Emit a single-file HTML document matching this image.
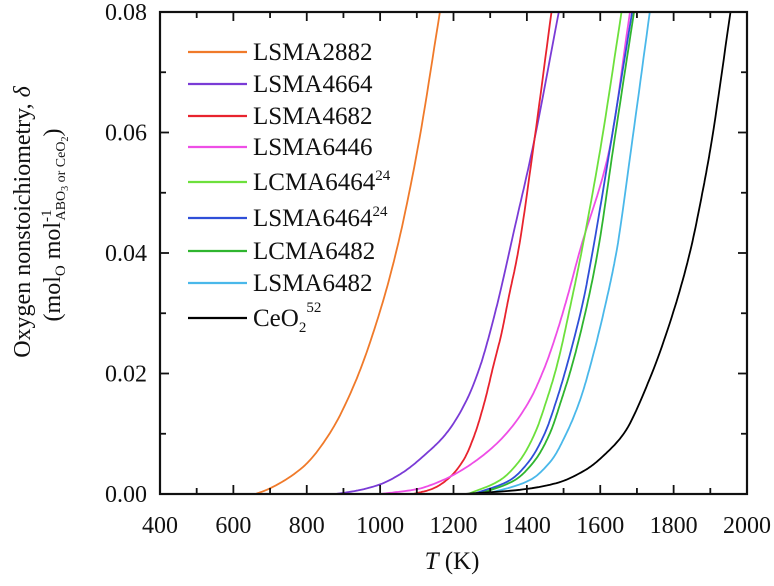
<!DOCTYPE html>
<html><head><meta charset="utf-8"><style>
body{margin:0;background:#fff}
svg text{font-family:"Liberation Serif",serif;fill:#111}
</style></head><body>
<svg id="chart" width="774" height="581" viewBox="0 0 774 581" xmlns="http://www.w3.org/2000/svg">
<g id="marks"></g>
<g id="axes"></g>
<g id="legend"></g>
<text x="452" y="569" text-anchor="middle" font-size="25"><tspan font-style="italic">T</tspan> (K)</text>
<text transform="translate(30,222) rotate(-90)" text-anchor="middle" font-size="24">Oxygen nonstoichiometry, <tspan font-style="italic">δ</tspan></text>
<text transform="translate(60,225) rotate(-90)" text-anchor="middle" font-size="24">(mol<tspan font-size="15" dy="5">O</tspan><tspan dy="-5"> mol</tspan><tspan font-size="15" dy="-9">-1</tspan><tspan font-size="14" dx="-11" dy="14">ABO</tspan><tspan font-size="10" dy="3">3</tspan><tspan font-size="14" dy="-3"> or CeO</tspan><tspan font-size="10" dy="3">2</tspan><tspan dy="-8">)</tspan></text>
</svg>
<script>
const xTicks=[400,600,800,1000,1200,1400,1600,1800,2000];
const yTicks=[0,0.02,0.04,0.06,0.08];
const seriesNames=["LSMA2882","LSMA4664","LSMA4682","LSMA6446","LCMA6464","LSMA6464","LCMA6482","LSMA6482","CeO2"];
const seriesColors=["#f07a2a","#7a3bd6","#e8232e","#ee4ee6","#6de03c","#2f4fd8","#2fb52f","#4ab8ea","#000000"];
const T_LSMA2882=[660,691,790,863,931,995,1045,1102,1163];
const D_LSMA2882=[0,0.0007,0.0045,0.0101,0.0184,0.0294,0.0405,0.0572,0.08];
const T_LSMA4664=[880,940,1000,1060,1120,1181,1236,1272,1299,1322,1368,1415,1487];
const D_LSMA4664=[0,0.0006,0.0016,0.0035,0.0064,0.0101,0.0156,0.0211,0.0267,0.0322,0.0445,0.0572,0.08];
const T_LSMA4682=[1090,1140,1181,1227,1259,1286,1308,1331,1349,1377,1417,1467];
const D_LSMA4682=[0,0.0008,0.0023,0.0056,0.0101,0.0156,0.0211,0.0267,0.0322,0.0405,0.0572,0.08];
const T_LSMA6446=[1000,1100,1171,1263,1345,1408,1449,1481,1508,1545,1625,1681];
const D_LSMA6446=[0,0.0008,0.0023,0.0056,0.0101,0.0156,0.0211,0.0267,0.0322,0.0405,0.0572,0.08];
const T_LCMA6464=[1240,1327,1381,1422,1454,1481,1522,1550,1600,1658];
const D_LCMA6464=[0,0.0023,0.0056,0.0101,0.0156,0.0211,0.0322,0.0405,0.0572,0.08];
const T_LSMA6464=[1255,1354,1408,1449,1481,1508,1554,1580,1626,1687];
const D_LSMA6464=[0,0.0023,0.0056,0.0101,0.0156,0.0211,0.0322,0.0405,0.0572,0.08];
const T_LCMA6482=[1270,1367,1422,1463,1494,1522,1567,1594,1635,1692];
const D_LCMA6482=[0,0.0023,0.0056,0.0101,0.0156,0.0211,0.0322,0.0405,0.0572,0.08];
const T_LSMA6482=[1290,1408,1467,1508,1545,1572,1617,1645,1684,1735];
const D_LSMA6482=[0,0.0023,0.0056,0.0101,0.0156,0.0211,0.0322,0.0405,0.0572,0.08];
const T_CeO2=[1230,1381,1480,1560,1620,1665,1730,1795,1846,1878,1900,1955];
const D_CeO2=[0,0.0007,0.0018,0.004,0.007,0.0101,0.0184,0.0294,0.0405,0.0499,0.0572,0.08];

const X0=160,X1=747,Y0=494,Y1=12;
function sx(t){return X0+(t-400)/(2000-400)*(X1-X0);}
function sy(d){return Y0-d/0.08*(Y0-Y1);}
const NS="http://www.w3.org/2000/svg";
function mk(tag,attrs,parent){const e=document.createElementNS(NS,tag);for(const k in attrs)e.setAttribute(k,attrs[k]);parent.appendChild(e);return e;}
const marks=document.getElementById('marks'),axes=document.getElementById('axes'),legend=document.getElementById('legend');
const Ts=[T_LSMA2882,T_LSMA4664,T_LSMA4682,T_LSMA6446,T_LCMA6464,T_LSMA6464,T_LCMA6482,T_LSMA6482,T_CeO2];
const Ds=[D_LSMA2882,D_LSMA4664,D_LSMA4682,D_LSMA6446,D_LCMA6464,D_LSMA6464,D_LCMA6482,D_LSMA6482,D_CeO2];
function monoPath(xs,ys){
  const n=xs.length,h=[],m=[],t=new Array(n);
  for(let i=0;i<n-1;i++){h.push(xs[i+1]-xs[i]);m.push((ys[i+1]-ys[i])/h[i]);}
  t[0]=m[0];t[n-1]=m[n-2];
  for(let i=1;i<n-1;i++){t[i]=(m[i-1]*m[i]<=0)?0:3*(h[i-1]+h[i])/((2*h[i]+h[i-1])/m[i-1]+(h[i]+2*h[i-1])/m[i]);}
  let d="M"+sx(xs[0]).toFixed(1)+","+sy(ys[0]).toFixed(1);
  for(let i=0;i<n-1;i++){
    for(let k=1;k<=12;k++){
      const s=k/12,s2=s*s,s3=s2*s;
      const y=(2*s3-3*s2+1)*ys[i]+(s3-2*s2+s)*h[i]*t[i]+(-2*s3+3*s2)*ys[i+1]+(s3-s2)*h[i]*t[i+1];
      d+=" L"+sx(xs[i]+s*h[i]).toFixed(1)+","+sy(y).toFixed(1);
    }
  }
  return d;
}
for(let s=0;s<Ts.length;s++){
  const l=mk('path',{d:"M"+sx(400)+","+sy(0)+" L"+sx(Ts[s][0])+","+sy(0),stroke:seriesColors[s],'stroke-width':1.6,fill:'none'},marks);
  
  
  const p=mk('path',{d:monoPath(Ts[s],Ds[s]),stroke:seriesColors[s],'stroke-width':1.8,fill:'none','stroke-linejoin':'round'},marks);
  
  
}
const frame=mk('rect',{x:X0,y:Y1,width:X1-X0,height:Y0-Y1,fill:'none',stroke:'#111','stroke-width':2.2},axes);


for(let t=400;t<=2000;t+=100){
  const x=sx(t),L=(t%200===0)?9:6;
  mk('line',{x1:x,y1:Y0,x2:x,y2:Y0-L,stroke:'#111','stroke-width':1.8},axes);
  mk('line',{x1:x,y1:Y1,x2:x,y2:Y1+L,stroke:'#111','stroke-width':1.8},axes);
}
for(const t of xTicks){
  const tx=mk('text',{x:sx(t),y:533,'text-anchor':'middle','font-size':24},axes);
  tx.textContent=t;
  
  
}
for(let d=0;d<=0.0801;d+=0.01){
  const y=sy(d),L=(Math.round(d*100)%2===0)?9:6;
  mk('line',{x1:X0,y1:y,x2:X0+L,y2:y,stroke:'#111','stroke-width':1.8},axes);
  mk('line',{x1:X1,y1:y,x2:X1-L,y2:y,stroke:'#111','stroke-width':1.8},axes);
}
for(const d of yTicks){
  const ty=mk('text',{x:147,y:sy(d)+8,'text-anchor':'end','font-size':24},axes);
  ty.textContent=d.toFixed(2);
  
  
}
const legY=[52,84,116,147,182,218,251,283,318];
const sups=["","","","","24","24","","","52"];
for(let s=0;s<seriesNames.length;s++){
  const g=mk('g',{},legend);
  
  
  mk('line',{x1:188,y1:legY[s],x2:247,y2:legY[s],stroke:seriesColors[s],'stroke-width':2.2},g);
  const t=mk('text',{x:253,y:legY[s]+8,'font-size':25},g);
  if(s===8){t.innerHTML='CeO<tspan font-size="15" dy="6">2</tspan><tspan font-size="15" dy="-20">52</tspan>';}
  else{t.innerHTML=seriesNames[s]+(sups[s]?'<tspan font-size="15" dy="-10">'+sups[s]+'</tspan>':'');}
}
</script>
</body></html>
